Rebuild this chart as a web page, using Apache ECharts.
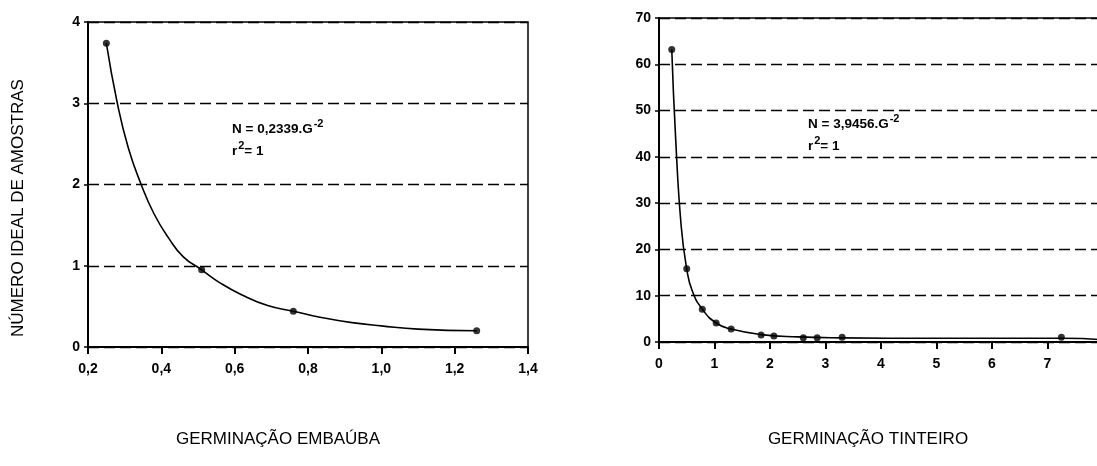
<!DOCTYPE html>
<html>
<head>
<meta charset="utf-8">
<script src="https://cdn.jsdelivr.net/npm/echarts@6/dist/echarts.min.js"></script>
<style>
html, body { margin: 0; padding: 0; background: #fff; overflow: hidden; }
#main { width: 1120px; height: 466px; }
</style>
</head>
<body>
<div id="main"></div>
<script>
var embX = [0.25, 0.51, 0.76, 1.26];
var embN = [3.74, 0.95, 0.44, 0.20];
var embCurveX = [0.25, 0.28, 0.31, 0.345, 0.38, 0.42, 0.46, 0.51, 0.56, 0.62, 0.69, 0.76, 0.84, 0.92, 1.00, 1.10, 1.26];
var embCurveN = [3.74, 3.00, 2.45, 2.00, 1.64, 1.34, 1.11, 0.95, 0.79, 0.64, 0.51, 0.44, 0.36, 0.30, 0.26, 0.22, 0.20];
var embXTicks = ['0,2', '0,4', '0,6', '0,8', '1,0', '1,2', '1,4'];
var embYTicks = ['0', '1', '2', '3', '4'];

// Tinteiro
var tinX = [0.23, 0.50, 0.78, 1.03, 1.30, 1.84, 2.07, 2.60, 2.85, 3.30, 7.25];
var tinN = [63.2, 15.8, 7.1, 4.1, 2.8, 1.5, 1.3, 0.9, 0.9, 1.0, 1.0];
var tinCurveX = [0.23, 0.30, 0.40, 0.50, 0.60, 0.78, 1.03, 1.30, 1.84, 2.50, 3.30, 5.00, 7.25, 8.00];
var tinCurveN = [63.2, 44.0, 25.0, 15.8, 11.0, 7.1, 4.1, 2.8, 1.6, 1.1, 0.9, 0.8, 0.8, 0.5];
var tinXTicks = ['0', '1', '2', '3', '4', '5', '6', '7', '8'];
var tinYTicks = ['0', '10', '20', '30', '40', '50', '60', '70'];

function pairs(xs, ys) {
    return xs.map(function (x, i) { return [x, ys[i]]; });
}

var tickFont = { color: '#000', fontFamily: 'Liberation Sans', fontWeight: 'bold', fontSize: 14 };
var titleFont = { fill: '#000', fontFamily: 'Liberation Sans', fontSize: 17 };
var eqRich = {
    a: { fontFamily: 'Liberation Sans', fontWeight: 'bold', fontSize: 13.5, color: '#000', lineHeight: 22 },
    s: { fontFamily: 'Liberation Sans', fontWeight: 'bold', fontSize: 11, color: '#000', verticalAlign: 'top', lineHeight: 22, padding: [0, 0, 0, 1] }
};

function xAxisOf(gi, min, max, step, labels) {
    return {
        type: 'value', gridIndex: gi, min: min, max: max, interval: step,
        axisLine: { onZero: false, lineStyle: { color: '#000', width: 2 } },
        axisTick: { show: true, length: 7, lineStyle: { color: '#000', width: 2 } },
        axisLabel: Object.assign({ margin: 15, formatter: function (v) {
            return labels[Math.round((v - min) / step)];
        } }, tickFont),
        splitLine: { show: false }
    };
}
function yAxisOf(gi, max, step, labels) {
    return {
        type: 'value', gridIndex: gi, min: 0, max: max, interval: step,
        axisLine: { show: true, onZero: false, lineStyle: { color: '#000', width: 2 } },
        axisTick: { show: true, length: 4, lineStyle: { color: '#000', width: 1.5 } },
        axisLabel: Object.assign({ margin: 8, formatter: function (v) {
            return labels[Math.round(v / step)];
        } }, tickFont),
        splitLine: { show: true, lineStyle: { color: '#000', width: 1.3, type: [11, 5] } }
    };
}

var chart = echarts.init(document.getElementById('main'));
chart.setOption({
    animation: false,
    backgroundColor: '#fff',
    grid: [
        { left: 88, top: 22, width: 440, height: 325, show: true, borderColor: '#000', borderWidth: 1.5 },
        { left: 659, top: 18, width: 444, height: 324, show: true, borderColor: '#000', borderWidth: 1.5 }
    ],
    xAxis: [
        xAxisOf(0, 0.2, 1.4, 0.2, embXTicks),
        xAxisOf(1, 0, 8, 1, tinXTicks)
    ],
    yAxis: [
        yAxisOf(0, 4, 1, embYTicks),
        yAxisOf(1, 70, 10, tinYTicks)
    ],
    series: [
        { type: 'line', xAxisIndex: 0, yAxisIndex: 0, data: pairs(embCurveX, embCurveN),
          smooth: true, symbol: 'none', lineStyle: { color: '#000', width: 1.6 } },
        { type: 'scatter', xAxisIndex: 0, yAxisIndex: 0, data: pairs(embX, embN),
          symbolSize: 7, itemStyle: { color: '#000' } },
        { type: 'line', xAxisIndex: 1, yAxisIndex: 1, data: pairs(tinCurveX, tinCurveN),
          smooth: true, symbol: 'none', lineStyle: { color: '#000', width: 1.6 } },
        { type: 'scatter', xAxisIndex: 1, yAxisIndex: 1, data: pairs(tinX, tinN),
          symbolSize: 7, itemStyle: { color: '#000' } }
    ],
    graphic: [
        { type: 'text', x: 18, y: 208, rotation: Math.PI / 2,
          style: Object.assign({ text: 'NÚMERO IDEAL DE AMOSTRAS', align: 'center', verticalAlign: 'middle' }, titleFont) },
        { type: 'text', x: 278, y: 439,
          style: Object.assign({ text: 'GERMINAÇÃO EMBAÚBA', align: 'center', verticalAlign: 'middle' }, titleFont) },
        { type: 'text', x: 868, y: 439,
          style: Object.assign({ text: 'GERMINAÇÃO TINTEIRO', align: 'center', verticalAlign: 'middle' }, titleFont) },
        { type: 'text', x: 232, y: 118,
          style: { text: '{a|N = 0,2339.G}{s|-2}\n{a|r}{s|2}{a|= 1}', rich: eqRich } },
        { type: 'text', x: 808, y: 113,
          style: { text: '{a|N = 3,9456.G}{s|-2}\n{a|r}{s|2}{a|= 1}', rich: eqRich } }
    ]
});
</script>
</body>
</html>
